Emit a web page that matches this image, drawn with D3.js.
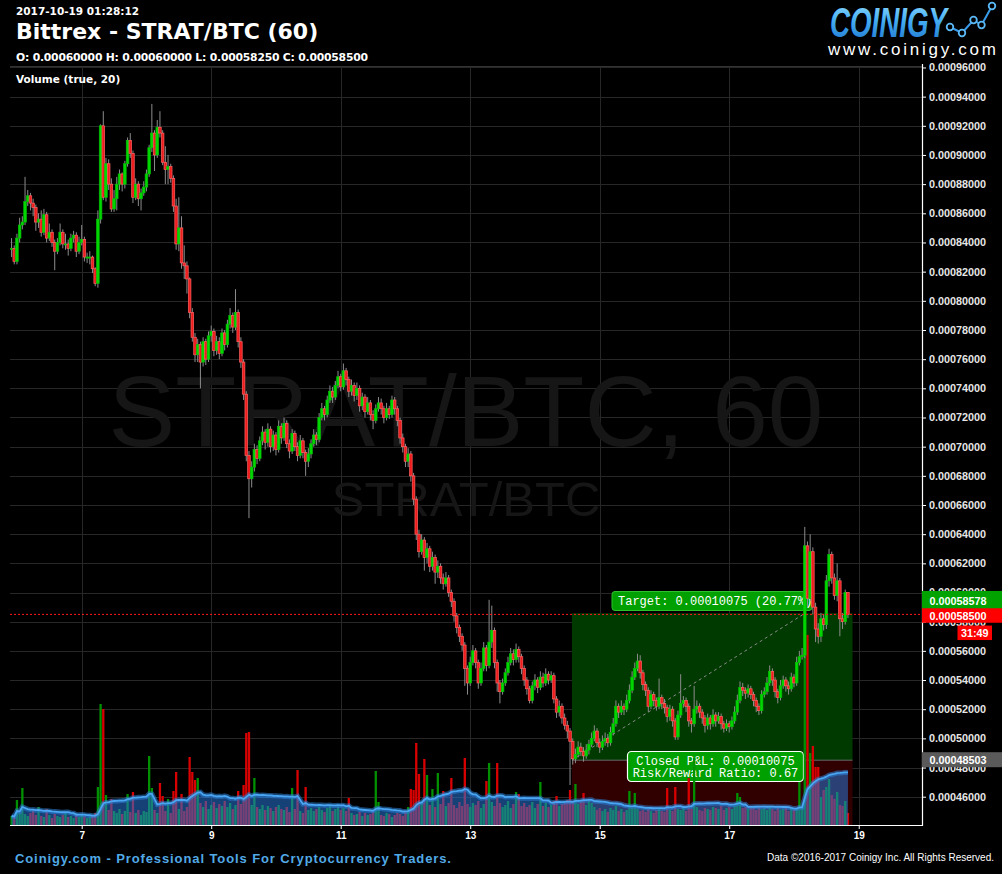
<!DOCTYPE html>
<html><head><meta charset="utf-8">
<script src="https://cdn.jsdelivr.net/npm/d3@7"></script>
<style>
html,body{margin:0;padding:0;background:#000;}
svg{display:block;}
</style></head><body>
<svg id="c" width="1002" height="874"></svg>
<script>
// ---------- DATA (prices in units of 1e-6 BTC, hourly candles, chart-local time) ----------
const startTime = "2017-10-05T22:00:00Z";
const opens = [
836,836,827,843,852,854,868,872,867,864, 854,856,847,859,843,847,840,834,840,847,
839,839,836,843,845,834,840,842,830,830, 830,822,812,856,920,871,894,880,863,870,
880,887,880,894,910,901,871,880,870,874, 878,887,905,915,900,919,915,895,890,892,
884,865,839,850,826,824,815,792,775,763, 770,758,772,760,776,779,766,772,764,778,
770,784,790,782,792,772,758,736,694,678, 686,698,692,704,710,703,712,700,708,698,
714,706,716,702,697,709,700,694,704,696, 690,695,702,708,705,720,726,722,732,738,
734,742,748,741,752,746,738,742,735,740, 728,734,724,730,722,718,726,730,726,720,
726,722,732,726,718,706,700,690,695,680, 664,640,628,636,624,630,618,624,614,618,
610,606,610,600,594,584,576,570,564,548, 538,552,560,552,538,548,562,550,566,574,
552,538,532,538,545,552,558,554,561,556, 548,540,534,526,536,540,535,542,538,544,
540,543,527,518,522,514,509,505,498,486, 489,494,491,488,492,496,500,505,497,494,
498,500,497,504,510,522,518,522,520,526, 533,542,548,553,545,537,533,522,530,526,
522,528,524,521,515,520,512,501,516,524, 526,522,512,510,520,522,518,514,509,514,
510,516,512,515,510,507,510,508,512,518, 526,535,533,531,534,530,526,522,519,530,
532,538,546,540,532,528,536,540,536,534, 542,538,552,556,557,632,596,628,590,575,
570,582,578,608,626,610,598,608,582,580,600];
const highs = [
843,838,846,857,858,885,876,874,870,866, 860,862,863,861,853,849,842,843,853,849,
846,842,846,848,847,844,852,844,833,834, 831,823,862,921,930,898,897,884,876,885,
890,888,896,912,915,903,884,882,877,882, 890,907,935,917,924,930,917,906,900,894,
886,870,871,858,838,827,816,795,778,774, 772,775,774,779,783,781,776,775,781,780,
787,795,792,808,794,775,760,738,697,690, 702,701,707,714,712,716,714,711,710,718,
716,720,718,705,712,711,703,708,706,698, 699,705,712,710,723,730,728,735,742,741,
745,752,750,757,754,748,746,744,744,742, 737,736,734,732,725,729,734,733,728,730,
728,735,734,728,720,709,702,699,697,682, 666,643,640,638,634,632,628,626,622,620,
613,614,612,602,596,586,578,572,566,550, 556,564,562,554,552,566,564,595,591,576,
554,540,541,548,556,562,561,565,563,558, 550,542,536,539,544,542,546,545,548,546,
546,545,529,526,524,517,512,507,500,493, 498,497,494,496,499,504,509,507,500,502,
504,503,508,514,526,524,526,524,530,537, 546,552,558,557,547,539,535,533,532,528,
541,530,527,523,523,522,514,519,544,529, 528,524,514,536,526,524,520,516,517,516,
520,518,518,517,512,513,512,515,522,530, 539,538,535,537,536,532,528,524,533,535,
542,550,548,542,534,540,543,542,539,545, 544,556,560,562,645,635,640,631,593,579,
586,585,612,630,628,613,620,610,586,602,600];
const lows = [
830,825,825,840,849,852,865,862,858,848, 850,844,845,840,841,837,821,832,838,836,
835,831,834,840,830,832,838,827,826,825, 819,810,809,853,869,868,876,861,861,862,
876,875,877,892,898,867,869,865,862,872, 875,885,902,889,898,912,893,880,880,881,
861,835,834,822,815,805,788,772,758,758, 740,755,756,758,772,762,763,760,762,766,
768,781,778,780,768,754,732,690,651,672, 683,688,690,701,698,700,696,697,694,696,
702,704,699,692,695,697,690,692,692,680, 686,692,700,701,703,718,718,720,730,730,
732,740,738,739,742,734,735,731,732,724, 725,720,722,718,712,716,724,722,716,718,
719,720,722,714,702,696,686,686,676,660, 636,624,626,615,620,614,615,606,610,606,
602,604,597,590,580,572,566,560,536,530, 536,550,548,534,536,546,546,548,562,548,
532,524,530,536,543,550,550,552,552,544, 536,530,524,524,533,531,533,535,536,537,
538,524,514,515,510,506,500,468,482,483, 487,488,484,486,489,494,498,494,490,492,
495,494,495,502,508,514,516,516,518,524, 531,540,546,541,533,529,518,520,522,519,
520,520,517,511,512,508,499,499,514,521, 518,508,504,508,517,514,510,504,506,506,
508,508,510,506,504,505,504,506,510,516, 524,529,527,528,527,522,518,516,517,528,
530,536,536,528,524,526,534,532,530,532, 535,536,550,554,555,590,594,585,566,565,
566,574,575,604,606,595,594,570,575,578,582.5];
const closes = [
836,827,843,852,854,868,872,867,864,854, 856,847,859,843,847,840,834,840,847,839,
839,836,843,845,834,840,842,830,830,830, 822,812,856,920,871,894,880,863,870,880,
887,880,894,910,901,871,880,870,874,878, 887,905,915,900,919,915,895,890,892,884,
865,839,850,826,824,815,792,775,763,770, 758,772,760,776,779,766,772,764,778,770,
784,790,782,792,772,758,736,694,678,686, 698,692,704,710,703,712,700,708,698,714,
706,716,702,697,709,700,694,704,696,690, 695,702,708,705,720,726,722,732,738,734,
742,748,741,752,746,738,742,735,740,728, 734,724,730,722,718,726,730,726,720,726,
722,732,726,718,706,700,690,695,680,664, 640,628,636,624,630,618,624,614,618,610,
606,610,600,594,584,576,570,564,548,538, 552,560,552,538,548,562,550,566,574,552,
538,532,538,545,552,558,554,561,556,548, 540,534,526,536,540,535,542,538,544,540,
543,527,518,522,514,509,505,498,486,489, 494,491,488,492,496,500,505,497,494,498,
500,497,504,510,522,518,522,520,526,533, 542,548,553,545,537,533,522,530,526,522,
528,524,521,515,520,512,501,516,524,526, 522,512,510,520,522,518,514,509,514,510,
516,512,515,510,507,510,508,512,518,526, 535,533,531,534,530,526,522,519,530,532,
538,546,540,532,528,536,540,536,534,542, 538,552,556,557,632,596,628,590,575,570,
582,578,608,626,610,598,608,582,580,600,585];
const volumes = [
9,8,25,12,37,11,9,12,16,10, 18,9,8,16,10,7,11,9,8,10,
12,8,9,7,10,8,11,9,7,8, 9,12,38,121,116,30,15,26,14,12,
16,11,14,31,13,33,12,15,10,14, 13,69,37,15,12,42,29,14,26,12,
34,53,16,31,14,18,68,53,45,47, 22,18,24,16,20,23,17,21,19,24,
18,22,16,20,34,21,40,92,93,20, 47,18,16,20,15,19,17,14,18,20,
16,15,18,13,37,16,55,14,12,38, 15,17,14,16,18,15,13,17,19,14,
16,18,15,17,14,27,12,10,11,13, 9,12,10,11,13,54,23,10,9,12,
11,8,10,12,11,9,13,18,36,35, 82,51,22,66,50,20,36,18,52,21,
34,19,22,47,20,17,23,19,67,21, 18,22,20,24,17,21,44,62,23,19,
62,22,18,20,24,17,21,33,31,19, 22,18,20,23,17,21,43,19,22,18,
20,24,29,19,21,22,25,35,24,41, 21,23,32,20,24,22,18,15,17,14,
16,13,17,15,19,14,16,13,15,34, 17,32,16,14,15,13,16,14,12,15,
17,14,13,37,15,14,38,16,15,17, 14,47,16,67,18,15,14,17,16,15,
18,17,16,19,15,17,18,16,19,32, 28,17,18,16,19,17,15,18,16,17,
15,19,16,14,17,15,16,18,14,16, 15,17,43,18,205,190,72,79,58,58,
28,35,38,46,30,26,33,20,19,24,12];
const priceTicks = [460,480,500,520,540,560,580,600,620,640,660,680,700,720,740,760,780,800,820,840,860,880,900,920,940,960];
const dayTicks = ["2017-10-07","2017-10-09","2017-10-11","2017-10-13","2017-10-15","2017-10-17","2017-10-19"];
const dayLabels = ["7","9","11","13","15","17","19"];
const maPeriod = 20;
// position (long) tool
const entryPrice = 485.03, targetPrice = 585.78, stopPrice = 418.0, lastPrice = 585.0;
const posStart = "2017-10-14T13:43:00Z", posHit = "2017-10-18T04:05:00Z", posEnd = "2017-10-18T21:42:00Z";
const headerTime = "2017-10-19 01:28:12";
const titleText = "Bittrex - STRAT/BTC (60)";
const ohlcText = "O: 0.00060000 H: 0.00060000 L: 0.00058250 C: 0.00058500";
const countdown = "31:49";

// ---------- LAYOUT ----------
const W = 1002, H = 874;
const P = {left:10, right:922, top:66, bottom:825};
const HOUR = 3600e3;
const t0 = Date.parse(startTime);
const times = closes.map((_, i) => new Date(t0 + i * HOUR));
const fmt = v => (v * 1e-6).toFixed(8);

const svg = d3.select("#c");
svg.append("rect").attr("width", W).attr("height", H).attr("fill", "#000");
const defs = svg.append("defs");
defs.append("clipPath").attr("id", "plotClip").append("rect")
  .attr("x", P.left).attr("y", P.top).attr("width", P.right - P.left).attr("height", P.bottom - P.top);
defs.append("clipPath").attr("id", "axClip").append("rect")
  .attr("x", P.right - 2).attr("y", 63).attr("width", 100).attr("height", 800);
const lg = defs.append("linearGradient").attr("id", "logoGrad").attr("x1", 0).attr("y1", 0).attr("x2", 0).attr("y2", 1);
lg.append("stop").attr("offset", "0%").attr("stop-color", "#9ee0ff");
lg.append("stop").attr("offset", "45%").attr("stop-color", "#46b0f4");
lg.append("stop").attr("offset", "100%").attr("stop-color", "#1a6fcc");

const x = d3.scaleUtc()
  .domain([new Date(t0 - 0.575 * HOUR), new Date(t0 + 337.45 * HOUR)])
  .range([P.left, P.right]);
const y = d3.scaleLinear().domain([440.6, 961.0]).range([P.bottom, P.top]);
const yv = d3.scaleLinear().domain([0, 300]).range([P.bottom, P.bottom - 300]);
const dayDates = dayTicks.map(d => new Date(d + "T00:00:00Z"));

// grid
const grid = svg.append("g");
grid.selectAll("line.h").data(priceTicks).join("line")
  .attr("x1", P.left).attr("x2", P.right)
  .attr("y1", d => Math.round(y(d)) + 0.5).attr("y2", d => Math.round(y(d)) + 0.5)
  .attr("stroke", "#272727").attr("stroke-width", 1);
grid.selectAll("line.v").data(dayDates).join("line")
  .attr("x1", d => Math.round(x(d)) + 0.5).attr("x2", d => Math.round(x(d)) + 0.5)
  .attr("y1", P.top).attr("y2", P.bottom)
  .attr("stroke", "#272727").attr("stroke-width", 1);
grid.append("line").attr("x1", P.left).attr("x2", P.right).attr("y1", P.top + 0.5).attr("y2", P.top + 0.5)
  .attr("stroke", "#333");

// watermark
const cx = (P.left + P.right) / 2;
svg.append("text").attr("x", cx).attr("y", 446).attr("text-anchor", "middle")
  .attr("font-family", "Liberation Sans, Arial, sans-serif").attr("font-size", 100)
  .attr("fill", "#161616").text("STRAT/BTC, 60");
svg.append("text").attr("x", cx).attr("y", 516).attr("text-anchor", "middle")
  .attr("font-family", "Liberation Sans, Arial, sans-serif").attr("font-size", 49)
  .attr("fill", "#161616").text("STRAT/BTC");

const plot = svg.append("g").attr("clip-path", "url(#plotClip)");

// position tool
const xs = x(new Date(posStart)), xe = x(new Date(posEnd)), xh = x(new Date(posHit));
plot.append("rect").attr("x", xs).attr("y", y(targetPrice)).attr("width", xe - xs)
  .attr("height", y(entryPrice) - y(targetPrice)).attr("fill", "#003a00");
plot.append("rect").attr("x", xs).attr("y", y(entryPrice)).attr("width", xe - xs)
  .attr("height", y(stopPrice) - y(entryPrice)).attr("fill", "#300000");
plot.append("line").attr("x1", xs).attr("x2", xe).attr("y1", y(entryPrice)).attr("y2", y(entryPrice))
  .attr("stroke", "#6a6a6a").attr("stroke-width", 1);

// target label
const tg = plot.append("g");
tg.append("rect").attr("x", 612).attr("y", 591.5).attr("width", 200).attr("height", 19).attr("rx", 3)
  .attr("fill", "#00a000").attr("stroke", "#2fc02f").attr("stroke-width", 1);
tg.append("text").attr("x", 618).attr("y", 605).attr("font-family", "Liberation Mono, Courier New, monospace")
  .attr("font-size", 12).attr("fill", "#fff")
  .text("Target: " + ((targetPrice - entryPrice) * 1e-6).toFixed(8) + " (" + ((targetPrice - entryPrice) / entryPrice * 100).toFixed(2) + "%)");

// closed P&L box
const pb = plot.append("g");
pb.append("rect").attr("x", 627.5).attr("y", 751.5).attr("width", 176).attr("height", 30).attr("rx", 4)
  .attr("fill", "#00a000").attr("stroke", "#fff").attr("stroke-width", 1.2);
pb.append("text").attr("x", 715.5).attr("y", 765).attr("text-anchor", "middle")
  .attr("font-family", "Liberation Mono, Courier New, monospace").attr("font-size", 12).attr("fill", "#fff")
  .text("Closed P&L: " + ((targetPrice - entryPrice) * 1e-6).toFixed(8));
pb.append("text").attr("x", 715.5).attr("y", 777).attr("text-anchor", "middle")
  .attr("font-family", "Liberation Mono, Courier New, monospace").attr("font-size", 12).attr("fill", "#fff")
  .text("Risk/Reward Ratio: 0.67");

// volume bars
const bw = 2.3;
const up = i => closes[i] >= opens[i];
plot.append("g").selectAll("rect").data(volumes).join("rect")
  .attr("x", (d, i) => x(times[i]) - bw / 2).attr("width", bw)
  .attr("y", d => yv(d)).attr("height", d => P.bottom - yv(d))
  .attr("fill", (d, i) => up(i) ? "#009000" : "#d80000");

// volume MA (20)
const ma = volumes.map((v, i) => {
  const s = volumes.slice(Math.max(0, i - maPeriod + 1), i + 1);
  return d3.mean(s);
});
const areaGen = d3.area().x((d, i) => x(times[i])).y0(P.bottom).y1(d => yv(d));
const lineGen = d3.line().x((d, i) => x(times[i])).y(d => yv(d));
plot.append("path").datum(ma).attr("d", areaGen).attr("fill", "rgb(40,118,215)").attr("fill-opacity", 0.55);
plot.append("path").datum(ma).attr("d", lineGen).attr("fill", "none")
  .attr("stroke", "#2b7fd6").attr("stroke-width", 5).attr("stroke-opacity", 0.55);
plot.append("path").datum(ma).attr("d", lineGen).attr("fill", "none")
  .attr("stroke", "#4aa6f2").attr("stroke-width", 1.8);

// dashed trade line
plot.append("line").attr("x1", xs).attr("y1", y(entryPrice)).attr("x2", xh).attr("y2", y(targetPrice))
  .attr("stroke", "#8a8a8a").attr("stroke-width", 1).attr("stroke-dasharray", "3,3");

// candles
const cg = plot.append("g");
cg.selectAll("line").data(closes).join("line")
  .attr("x1", (d, i) => x(times[i])).attr("x2", (d, i) => x(times[i]))
  .attr("y1", (d, i) => y(highs[i])).attr("y2", (d, i) => y(lows[i]))
  .attr("stroke", "#8c8c8c").attr("stroke-width", 1);
cg.selectAll("rect").data(closes).join("rect")
  .attr("x", (d, i) => x(times[i]) - 1.3).attr("width", 2.6)
  .attr("y", (d, i) => y(Math.max(opens[i], closes[i])))
  .attr("height", (d, i) => Math.max(1, Math.abs(y(opens[i]) - y(closes[i]))))
  .attr("fill", (d, i) => up(i) ? "#00d800" : "#ee1c1c")
  .attr("stroke", (d, i) => up(i) ? "#00c000" : "#ff6262")
  .attr("stroke-width", 0.7);

// last price line
plot.append("line").attr("x1", P.left).attr("x2", P.right).attr("y1", y(lastPrice)).attr("y2", y(lastPrice))
  .attr("stroke", "#ff1a1a").attr("stroke-width", 1).attr("stroke-dasharray", "2,2");

// axes
const yAxis = d3.axisRight(y).tickValues(priceTicks).tickFormat(fmt).tickSize(4).tickPadding(3).tickSizeOuter(0);
const yaWrap = svg.append("g").attr("clip-path", "url(#axClip)");
const ya = yaWrap.append("g").attr("transform", `translate(${P.right},0)`).call(yAxis);
ya.select(".domain").remove();
ya.selectAll(".tick line").attr("stroke", "#fff");
ya.selectAll(".tick text").attr("fill", "#e6e6e6").attr("font-family", "Liberation Sans, Arial, sans-serif")
  .attr("font-size", 10.8).attr("font-weight", "bold");
svg.append("line").attr("x1", P.right + 0.5).attr("x2", P.right + 0.5).attr("y1", 64).attr("y2", P.bottom + 1)
  .attr("stroke", "#fff").attr("stroke-width", 1.2);

const xAxis = d3.axisBottom(x).tickValues(dayDates).tickFormat((d, i) => dayLabels[i]).tickSize(4).tickPadding(3).tickSizeOuter(0);
const xa = svg.append("g").attr("transform", `translate(0,${P.bottom})`).call(xAxis);
xa.select(".domain").remove();
xa.selectAll(".tick line").attr("stroke", "#fff");
xa.selectAll(".tick text").attr("fill", "#fff").attr("font-family", "Liberation Sans, Arial, sans-serif")
  .attr("font-size", 10).attr("font-weight", "bold");
svg.append("line").attr("x1", P.left).attr("x2", P.right + 1).attr("y1", P.bottom + 0.5).attr("y2", P.bottom + 0.5)
  .attr("stroke", "#fff").attr("stroke-width", 1.2);

// price badges
function badge(yc, h, fill, txt, x0, w, anchor) {
  const g = svg.append("g");
  g.append("rect").attr("x", x0).attr("y", yc - h / 2).attr("width", w).attr("height", h).attr("fill", fill);
  g.append("text").attr("x", anchor === "middle" ? x0 + w / 2 : 929.5).attr("y", yc + 4)
    .attr("text-anchor", anchor).attr("fill", "#fff").attr("font-family", "Liberation Sans, Arial, sans-serif")
    .attr("font-size", 10.8).attr("font-weight", "bold").text(txt);
}
badge(y(entryPrice) - 0.5, 15, "#5a5a5a", fmt(entryPrice), P.right, 80, "start");
badge(601.2, 20.5, "#00a300", fmt(targetPrice), P.right, 80, "start");
badge(615.5, 14.5, "#ff0000", fmt(lastPrice), P.right, 80, "start");
badge(632.8, 14.5, "#ff0000", countdown, 957.5, 34.5, "middle");

// header
const hf = "DejaVu Sans, Verdana, sans-serif";
svg.append("text").attr("x", 16).attr("y", 15).attr("fill", "#fff").attr("font-family", hf)
  .attr("font-weight", "bold").attr("font-size", 10.5).text(headerTime);
svg.append("text").attr("x", 16).attr("y", 39).attr("fill", "#fff").attr("font-family", hf)
  .attr("font-weight", "bold").attr("font-size", 22).text(titleText);
svg.append("text").attr("x", 16).attr("y", 60.5).attr("fill", "#fff").attr("font-family", hf)
  .attr("font-weight", "bold").attr("font-size", 10.8).attr("textLength", 352).attr("lengthAdjust", "spacing").text(ohlcText);
svg.append("text").attr("x", 16).attr("y", 83).attr("fill", "#fff").attr("font-family", hf)
  .attr("font-weight", "bold").attr("font-size", 10.5).text("Volume (true, " + maPeriod + ")");

// logo
svg.append("text").attr("x", 830).attr("y", 37).attr("font-family", "Liberation Sans, Arial, sans-serif")
  .attr("font-weight", "bold").attr("font-style", "italic").attr("font-size", 43)
  .attr("textLength", 117).attr("lengthAdjust", "spacingAndGlyphs")
  .attr("fill", "url(#logoGrad)").text("COINIGY");
const logoPts = [[950, 27], [962, 33], [973.5, 20], [981.5, 25], [992, 6]];
svg.append("path").attr("d", d3.line()(logoPts)).attr("fill", "none").attr("stroke", "#3a9be8").attr("stroke-width", 2);
svg.selectAll("circle.lp").data(logoPts).join("circle").attr("class", "lp")
  .attr("cx", d => d[0]).attr("cy", d => d[1]).attr("r", 3.3)
  .attr("fill", "#000").attr("stroke", "#5ab8f5").attr("stroke-width", 1.8);
svg.append("text").attr("x", 828).attr("y", 55).attr("font-family", "Liberation Sans, Arial, sans-serif")
  .attr("font-size", 17).attr("fill", "#fff").attr("textLength", 168).attr("lengthAdjust", "spacing")
  .text("www.coinigy.com");

// footer
svg.append("text").attr("x", 15).attr("y", 863).attr("font-family", "Liberation Sans, Arial, sans-serif")
  .attr("font-weight", "bold").attr("font-size", 13).attr("fill", "#52aae6")
  .attr("textLength", 436).attr("lengthAdjust", "spacing")
  .text("Coinigy.com - Professional Tools For Cryptocurrency Traders.");
svg.append("text").attr("x", 994).attr("y", 861).attr("text-anchor", "end").attr("font-family", "Liberation Sans, Arial, sans-serif")
  .attr("font-size", 10).attr("fill", "#fff")
  .text("Data \u00A92016-2017 Coinigy Inc. All Rights Reserved.");
</script>
</body></html>
